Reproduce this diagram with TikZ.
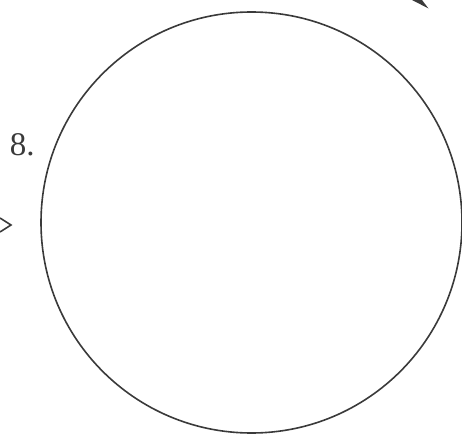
\documentclass[tikz,border=0pt]{standalone}
\usepackage{fontspec}
\setmainfont{Liberation Serif}
\usepackage{xcolor}
\usepackage{tikz}
\usetikzlibrary{positioning}
\definecolor{inkgray}{HTML}{3A3A3A}

\begin{document}
\begin{tikzpicture}[x=1pt, y=1pt, line width=1.6pt, draw=inkgray,
    ring/.style={circle, draw=inkgray, line width=1.6pt, minimum size=421pt, inner sep=0pt},
    tag/.style={inner sep=0pt, anchor=base west, text=inkgray, font=\fontsize{33}{38}\selectfont}]
    \useasboundingbox (0,0) rectangle (462,434);

    \node[ring] (disc) at (251.5,211.5) {};
    \node[tag] (num) at (9,278) {8.};

    % cut-off arrow tips at the edges
    \coordinate (chevtop) at (0,216);
    \coordinate (chevtip) at (11,209);
    \coordinate (chevbot) at (0,202);
    \draw[inkgray] (chevtop) -- (chevtip) -- (chevbot);

    \coordinate (wedgeA) at (412,434);
    \coordinate (wedgetip) at (428.5,425.5);
    \coordinate (wedgeB) at (422,434);
    \fill[inkgray] (wedgeA) -- (wedgetip) -- (wedgeB) -- cycle;
\end{tikzpicture}
\end{document}
